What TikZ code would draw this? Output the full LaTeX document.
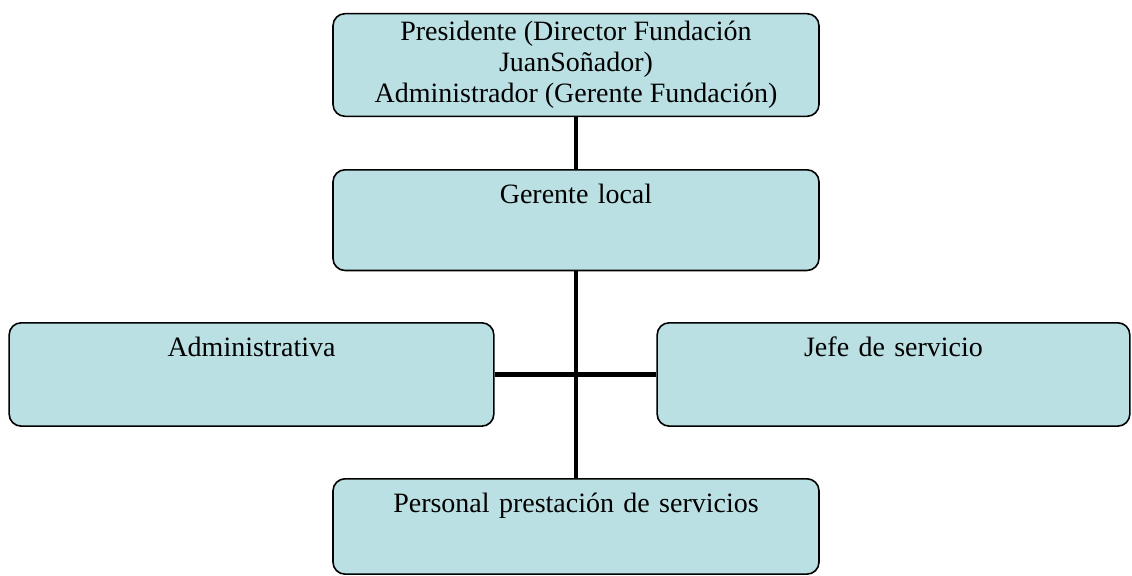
\documentclass[tikz,border=0pt]{standalone}
\usepackage{fontspec}
\setmainfont{Liberation Serif}
\definecolor{boxfill}{RGB}{187,224,227}
\begin{document}
\begin{tikzpicture}[
        x=0.75pt, y=-0.75pt,
        unit/.style={draw, line width=1.2pt, fill=boxfill, rounded corners=9pt,
            inner sep=0pt, anchor=north, align=center,
            font=\fontsize{21}{23.3}\selectfont,
            text height=25pt, text depth=#1},
        link/.style={line width=3.7pt}
    ]
        \useasboundingbox (0,0) rectangle (1132,575);

        % Units
        \node[draw, line width=1.2pt, fill=boxfill, rounded corners=9pt, align=center,
            minimum width=364.5pt, minimum height=77pt, inner sep=0pt,
            font=\fontsize{21}{23.3}\selectfont] (pres) at (576,65)
            {Presidente (Director Fundación\\JuanSoñador)\\Administrador (Gerente Fundación)};
        \node[unit=50.5pt, text width=364.5pt] (gerente) at (576,169) {Gerente local};
        \node[unit=52.5pt, text width=363.5pt] (admin) at (251.5,322) {Administrativa};
        \node[unit=52.5pt, text width=354.5pt] (jefe) at (893.5,322) {Jefe de servicio};
        \node[unit=46.5pt, text width=364.5pt] (personal) at (576,478) {Personal prestación de servicios};

        % Links
        \draw[link] (pres) -- (gerente);
        \draw[link] (gerente) -- (personal);
        \draw[link] (admin) -- (jefe);
    \end{tikzpicture}
\end{document}
